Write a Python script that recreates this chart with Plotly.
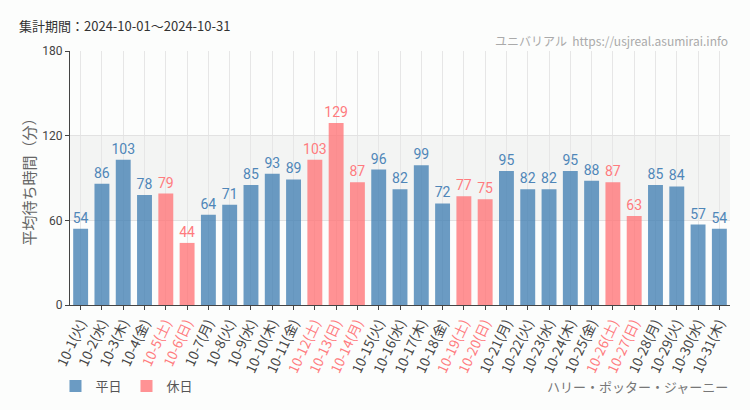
import plotly.graph_objects as go

dates = ["10-1", "10-2", "10-3", "10-4", "10-5", "10-6", "10-7", "10-8", "10-9", "10-10",
         "10-11", "10-12", "10-13", "10-14", "10-15", "10-16", "10-17", "10-18", "10-19", "10-20",
         "10-21", "10-22", "10-23", "10-24", "10-25", "10-26", "10-27", "10-28", "10-29", "10-30", "10-31"]
weekdays = ["火", "水", "木", "金", "土", "日", "月", "火", "水", "木",
            "金", "土", "日", "月", "火", "水", "木", "金", "土", "日",
            "月", "火", "水", "木", "金", "土", "日", "月", "火", "水", "木"]
wait_minutes = [54, 86, 103, 78, 79, 44, 64, 71, 85, 93,
                89, 103, 129, 87, 96, 82, 99, 72, 77, 75,
                95, 82, 82, 95, 88, 87, 63, 85, 84, 57, 54]
is_holiday = [False, False, False, False, True, True, False, False, False, False,
              False, True, True, True, False, False, False, False, True, True,
              False, False, False, False, False, True, True, False, False, False, False]

BLUE = "rgba(70,130,180,0.8)"
PINK = "rgba(255,115,118,0.78)"
BLUE_TXT = "#4f86b8"
PINK_TXT = "#ff7b7e"

cats = [f"{d}({w})" for d, w in zip(dates, weekdays)]
tick_text = [f"<span style='color:{PINK_TXT}'>{c}</span>" if h else c for c, h in zip(cats, is_holiday)]

fig = go.Figure()
for name, flag, col, tcol in [("平日", False, BLUE, BLUE_TXT), ("休日", True, PINK, PINK_TXT)]:
    xs = [c for c, h in zip(cats, is_holiday) if h == flag]
    ys = [v for v, h in zip(wait_minutes, is_holiday) if h == flag]
    fig.add_trace(go.Bar(
        x=xs, y=ys, name=name, marker=dict(color=col, line=dict(width=0)),
        text=[str(v) for v in ys], textposition="outside", cliponaxis=False,
        constraintext="none",
        textfont=dict(color=tcol, size=14, family="Liberation Sans Narrow, Roboto, sans-serif"),
    ))

fig.add_shape(type="rect", xref="paper", yref="y", x0=0, x1=1, y0=60, y1=120,
              fillcolor="#f3f4f3", line=dict(width=0), layer="below")

fig.update_layout(
    width=750, height=410,
    margin=dict(l=70, r=20, t=51, b=105, autoexpand=False),
    paper_bgcolor="#fcfdfc", plot_bgcolor="#fcfdfc",
    barmode="overlay", bargap=0.3,
    font=dict(family="Noto Sans CJK JP, Noto Sans, sans-serif", color="#444"),
    showlegend=True,
    legend=dict(orientation="h", x=-0.022, y=-0.319, xanchor="left", yanchor="middle",
                font=dict(size=13, color="#555"), itemwidth=30, traceorder="normal",
                bgcolor="rgba(0,0,0,0)"),
    xaxis=dict(type="category", categoryorder="array", categoryarray=cats,
               tickvals=cats, ticktext=tick_text, tickangle=-65, automargin=False,
               tickfont=dict(size=13.5, color="#444"),
               showgrid=True, gridcolor="#e6e6e6", gridwidth=1,
               showline=True, linecolor="#444", linewidth=1,
               ticks="outside", ticklen=4, tickcolor="#444"),
    yaxis=dict(range=[0, 180], tickvals=[0, 60, 120, 180], ticktext=["0", "60", "120", "180"],
               automargin=False,
               tickfont=dict(size=12, color="#444", family="Liberation Sans Narrow, Roboto, sans-serif"),
               showgrid=True, gridcolor="#e2e2e2", gridwidth=1, zeroline=False,
               showline=True, linecolor="#444", linewidth=1,
               ticks="outside", ticklen=4, tickcolor="#444",
               title=dict(text="平均待ち時間（分）", font=dict(size=15, color="#666"), standoff=3)),
)

fig.add_annotation(text="集計期間：2024-10-01～2024-10-31", xref="paper", yref="paper",
                   x=-0.077, y=1.0, xshift=-2, yshift=26, xanchor="left", yanchor="middle", showarrow=False,
                   font=dict(size=13, color="#333", family="Noto Sans CJK JP, sans-serif"))
fig.add_annotation(text="ユニバリアル  https://usjreal.asumirai.info", xref="paper", yref="paper",
                   x=1.0, y=1.0, yshift=11, xanchor="right", yanchor="middle", showarrow=False,
                   font=dict(size=12, color="#aaa", family="Liberation Sans Narrow, Noto Sans CJK JP, sans-serif"))
fig.add_annotation(text="ハリー・ポッター・ジャーニー", xref="paper", yref="paper",
                   x=1.0, y=0, yshift=-81, xanchor="right", yanchor="middle", showarrow=False,
                   font=dict(size=13, color="#777", family="Noto Sans CJK JP, sans-serif"))

fig.write_html("out.html", config={"displayModeBar": False},
               post_script="document.body.style.margin='0';document.body.style.background='#fcfdfc';")
